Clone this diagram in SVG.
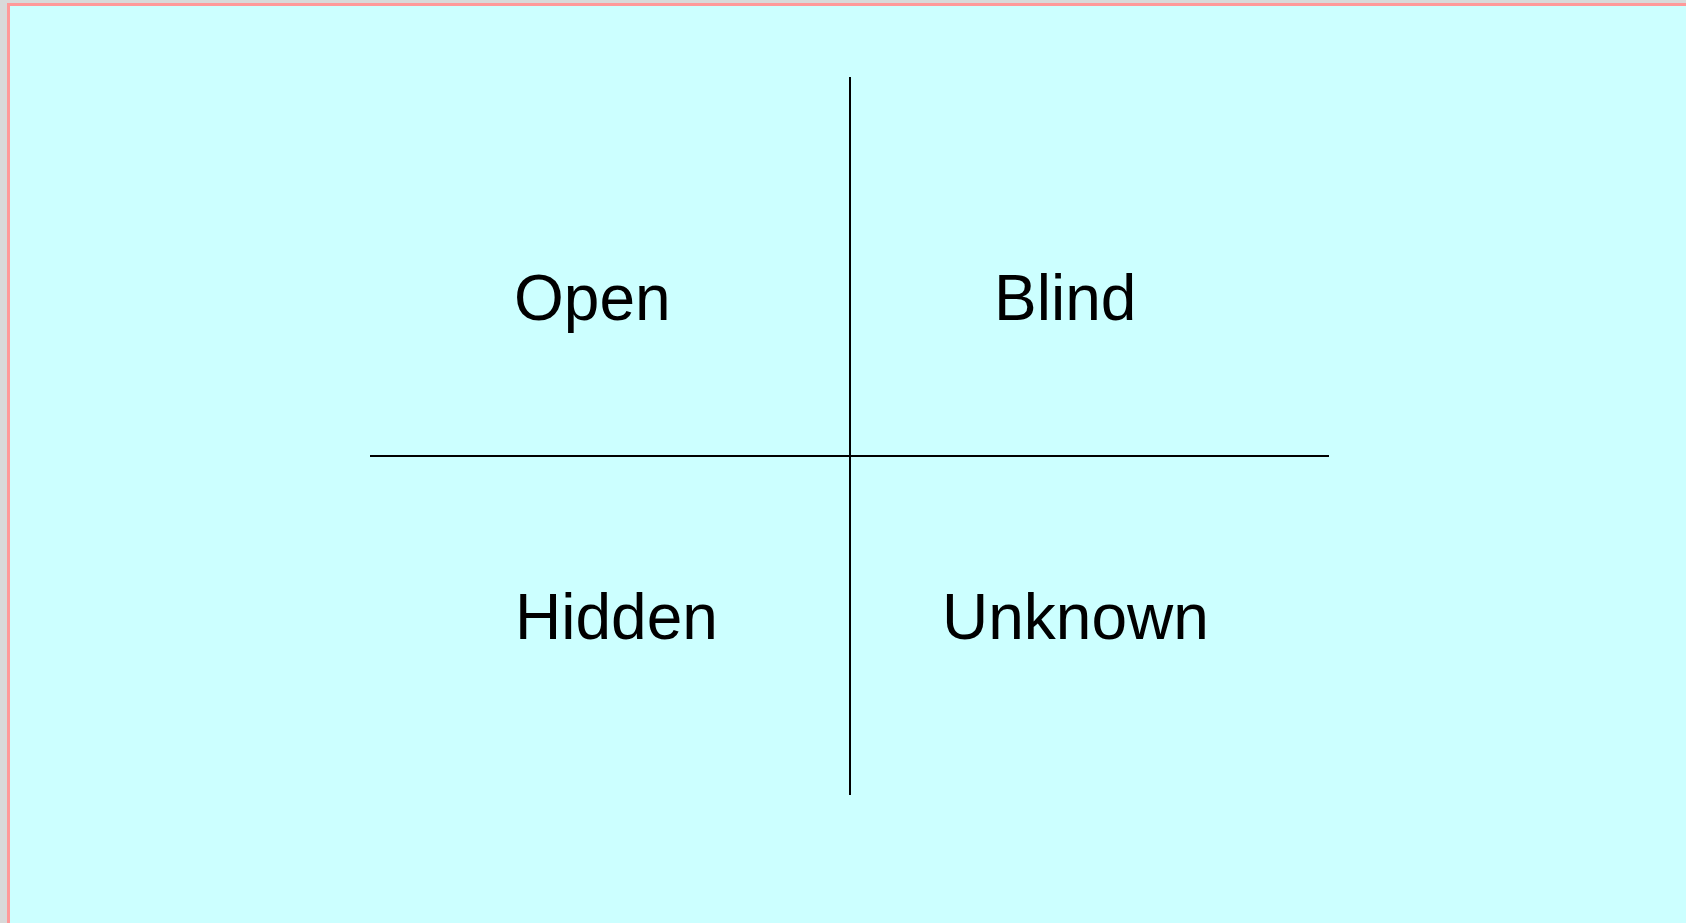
<svg xmlns="http://www.w3.org/2000/svg" width="1686" height="923" viewBox="0 0 1686 923">
<style>
.lbl{font-family:"Liberation Sans",Arial,Helvetica,sans-serif;font-size:64px;fill:#000}
.ax{stroke:#000;stroke-width:2;fill:none}
</style>
<rect x="0" y="0" width="1686" height="923" fill="#d9d9d9"/>
<rect x="8.5" y="4.5" width="1690" height="930" fill="#ccffff" stroke="#ff9999" stroke-width="3"/>
<g id="connectors">
<line class="ax" x1="850" y1="77" x2="850" y2="795"/>
<line class="ax" x1="370" y1="456" x2="1329" y2="456"/>
</g>
<g id="open"><text class="lbl" x="514" y="320">Open</text></g>
<g id="blind"><text class="lbl" x="994" y="320">Blind</text></g>
<g id="hidden"><text class="lbl" x="515" y="639">Hidden</text></g>
<g id="unknown"><text class="lbl" x="942" y="639">Unknown</text></g>
</svg>
